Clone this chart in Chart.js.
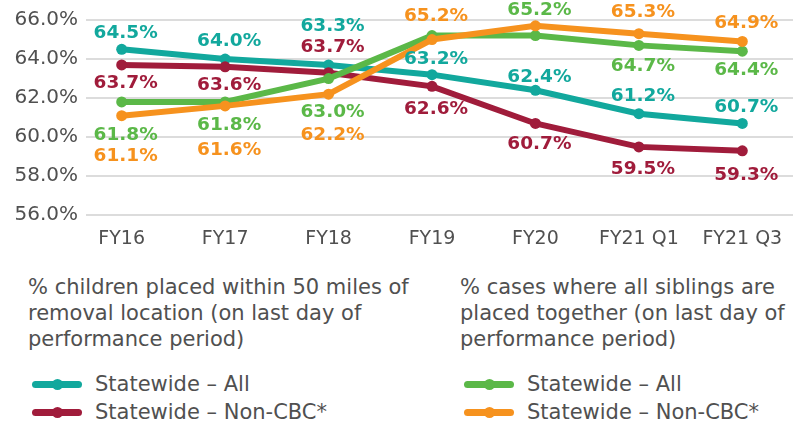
<!DOCTYPE html>
<html>
<head>
<meta charset="utf-8">
<script src="https://cdn.jsdelivr.net/npm/chart.js@4"></script>
<style>
  body { margin: 0; background: #fff; }
  #wrap { position: relative; width: 804px; height: 427px; font-family: "DejaVu Sans", sans-serif; color: #505050; }
  #chartBox { position: absolute; left: 0; top: 0; width: 804px; height: 273px; }
  .head { position: absolute; top: 274px; font-size: 21px; line-height: 26px; }
  .item { position: absolute; height: 28px; line-height: 28px; font-size: 21px; padding-left: 67px; white-space: nowrap; }
  .swatch { position: absolute; left: 4px; top: 11px; width: 50px; height: 7px; border-radius: 4px; }
  .swatch::after { content: ""; position: absolute; left: 20px; top: -2px; width: 11px; height: 11px; border-radius: 50%; background: inherit; }
</style>
</head>
<body>
<div id="wrap">
  <div id="chartBox"><canvas id="chart"></canvas></div>
  <div class="head" style="left:28px">% children placed within 50 miles of<br>removal location (on last day of<br>performance period)</div>
  <div class="head" style="left:460px">% cases where all siblings are<br>placed together (on last day of<br>performance period)</div>
  <div class="item" style="left:28px;top:370px"><span class="swatch" style="background:#12a89d"></span>Statewide – All</div>
  <div class="item" style="left:28px;top:398px"><span class="swatch" style="background:#a01c3b"></span>Statewide – Non-CBC*</div>
  <div class="item" style="left:460px;top:370px"><span class="swatch" style="background:#5bb848"></span>Statewide – All</div>
  <div class="item" style="left:460px;top:398px"><span class="swatch" style="background:#f6921e"></span>Statewide – Non-CBC*</div>
</div>
<script>
const categories = ['FY16', 'FY17', 'FY18', 'FY19', 'FY20', 'FY21 Q1', 'FY21 Q3'];

// % children placed within 50 miles of removal location
const milesAll = [64.5, 64.0, 63.7, 63.2, 62.4, 61.2, 60.7];
const milesNonCbc = [63.7, 63.6, 63.3, 62.6, 60.7, 59.5, 59.3];

// % cases where all siblings are placed together
const siblingsAll = [61.8, 61.8, 63.0, 65.2, 65.2, 64.7, 64.4];
const siblingsNonCbc = [61.1, 61.6, 62.2, 65.0, 65.7, 65.3, 64.9];

// value labels as printed on the chart (null = not shown)
const milesAllLabels = ['64.5%', '64.0%', '63.3%', '63.2%', '62.4%', '61.2%', '60.7%'];
const milesNonCbcLabels = ['63.7%', '63.6%', '63.7%', '62.6%', '60.7%', '59.5%', '59.3%'];
const siblingsAllLabels = ['61.8%', '61.8%', '63.0%', null, '65.2%', '64.7%', '64.4%'];
const siblingsNonCbcLabels = ['61.1%', '61.6%', '62.2%', '65.2%', null, '65.3%', '64.9%'];

const yTicks = [56, 58, 60, 62, 64, 66];

// vertical offset of each label from its point, px
const labelOffsets = [
  [-16, -18, -39, -15, -13, -18, -16],
  [18, 18, -26, 23, 21, 22, 24],
  [33, 23, 34, 0, -25, 21, 19],
  [41, 44, 41, -23, 0, -21, -18]
];

function series(label, values, texts, color, order) {
  return {
    label: label,
    data: values.map((v, i) => ({ x: i, y: v })),
    texts: texts,
    borderColor: color,
    backgroundColor: color,
    pointBackgroundColor: color,
    borderWidth: 6,
    pointRadius: 5.5,
    pointBorderWidth: 0,
    pointHoverRadius: 5.5,
    tension: 0,
    order: order
  };
}

const valueLabels = {
  id: 'valueLabels',
  afterDatasetsDraw(chart) {
    const ctx = chart.ctx;
    ctx.save();
    ctx.font = 'bold 18.5px "DejaVu Sans"';
    ctx.textAlign = 'center';
    ctx.textBaseline = 'middle';
    chart.data.datasets.forEach((ds, d) => {
      const meta = chart.getDatasetMeta(d);
      meta.data.forEach((pt, i) => {
        const text = ds.texts[i];
        if (!text) return;
        ctx.fillStyle = ds.borderColor;
        ctx.fillText(text, pt.x + 4, pt.y + labelOffsets[d][i]);
      });
    });
    ctx.restore();
  }
};

new Chart(document.getElementById('chart'), {
  type: 'line',
  data: {
    datasets: [
      series('Statewide – All', milesAll, milesAllLabels, '#12a89d', 4),
      series('Statewide – Non-CBC*', milesNonCbc, milesNonCbcLabels, '#a01c3b', 3),
      series('Statewide – All', siblingsAll, siblingsAllLabels, '#5bb848', 2),
      series('Statewide – Non-CBC*', siblingsNonCbc, siblingsNonCbcLabels, '#f6921e', 1)
    ]
  },
  options: {
    responsive: true,
    maintainAspectRatio: false,
    animation: false,
    layout: { padding: { top: 19, right: 11, bottom: 11, left: 0 } },
    plugins: {
      legend: { display: false },
      tooltip: { enabled: false }
    },
    scales: {
      x: {
        type: 'linear',
        min: -0.345,
        max: 6.49,
        grid: { display: false, drawTicks: false },
        border: { display: false },
        ticks: {
          stepSize: 1,
          includeBounds: false,
          padding: 12,
          color: '#505050',
          font: { family: 'DejaVu Sans', size: 19 },
          callback: (v) => categories[v]
        }
      },
      y: {
        min: 56,
        max: 66,
        afterFit: (scale) => { scale.width = 86; },
        afterBuildTicks: (scale) => { scale.ticks = yTicks.map(v => ({ value: v })); },
        grid: { color: '#dcdcdc', lineWidth: 2, drawTicks: false },
        border: { display: false },
        ticks: {
          padding: 8,
          color: '#505050',
          font: { family: 'DejaVu Sans', size: 20 },
          callback: (v) => v.toFixed(1) + '%'
        }
      }
    }
  },
  plugins: [valueLabels]
});
</script>
</body>
</html>
